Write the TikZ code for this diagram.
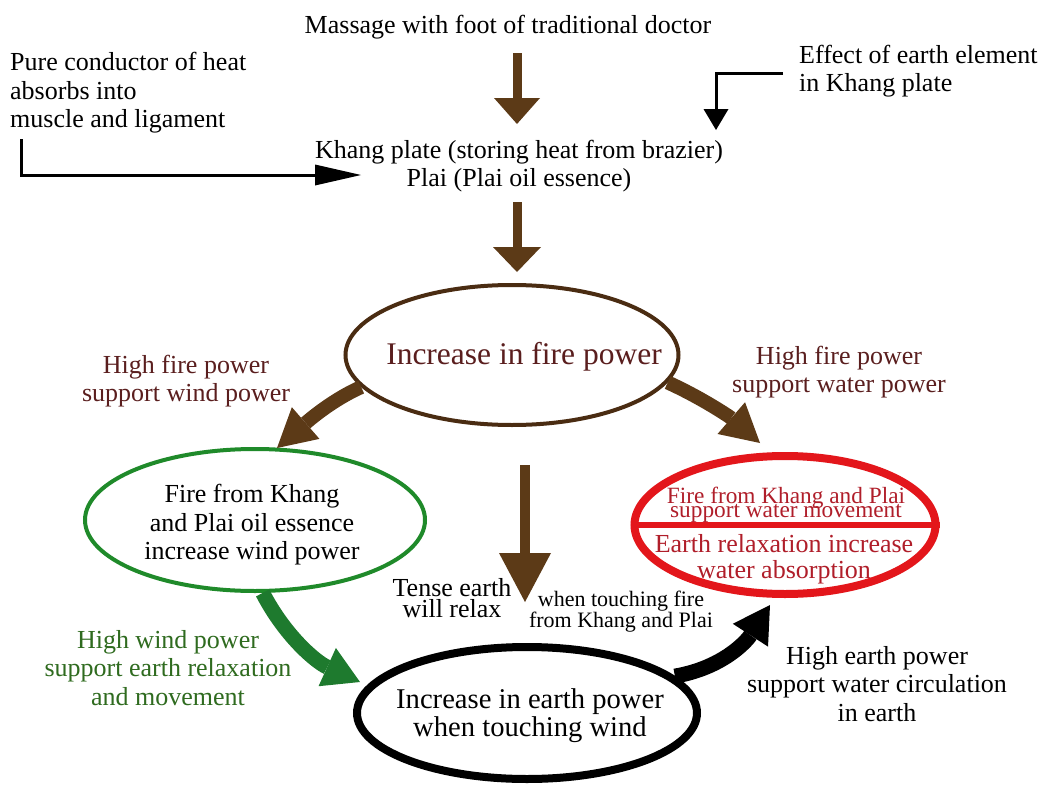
\documentclass[tikz,border=0pt]{standalone}
\usepackage{fontspec}
\setmainfont{Liberation Serif}
\usetikzlibrary{arrows.meta,shapes.geometric}
\definecolor{brownA}{HTML}{5C3A17}
\definecolor{brownE}{HTML}{4A2C12}
\definecolor{maroonT}{HTML}{5A1E1E}
\definecolor{redE}{HTML}{E3161B}
\definecolor{redT}{HTML}{B01E2A}
\definecolor{greenE}{HTML}{1F8A2A}
\definecolor{greenA}{HTML}{1E7A2E}
\definecolor{greenT}{HTML}{2F6B1F}
\newcommand{\tightlines}{\lineskiplimit -100pt\relax}
\tikzset{
  txt/.style={inner sep=0pt, align=center, font=\fontsize{26}{28.5}\selectfont},
  ell/.style={ellipse, inner sep=0pt},
  thinarrow/.style={black, line width=3pt, line join=miter},
  straightbrown/.style={brownA, line width=9pt},
  curvebrown/.style={brownA, line width=14pt, -{Triangle[length=38pt,width=42pt,line width=0pt]}},
}
\begin{document}
\begin{tikzpicture}[x=1pt,y=-1pt]
\fill[white] (0,0) rectangle (1045,787);
\useasboundingbox (0,0) rectangle (1045,787);

% top texts
\node[txt] (massage) at (508,27) {Massage with foot of traditional doctor};
\node[txt] (khang) at (519,166) {Khang plate (storing heat from brazier)\\Plai (Plai oil essence)};
\node[txt, align=left, anchor=west] (pure) at (10,93) {Pure conductor of heat\\absorbs into\\muscle and ligament};
\node[txt, align=left, anchor=west] (effect) at (799,71) {Effect of earth element\\in Khang plate};

% straight brown arrows
\coordinate (a1s) at (517,53);
\coordinate (a1e) at (517,124);
\draw[straightbrown, -{Triangle[length=26pt,width=46pt,line width=0pt]}] (a1s) -- (a1e);
\coordinate (a2s) at (517,202);
\coordinate (a2e) at (517,272);
\draw[straightbrown, -{Triangle[length=25pt,width=48pt,line width=0pt]}] (a2s) -- (a2e);

% thin black elbow arrows
\coordinate (l1) at (21,139);
\coordinate (l2) at (361,175);
\draw[thinarrow, -{Triangle[length=46pt,width=21pt,line width=0pt]}] (l1) |- (l2);
\coordinate (r1) at (783,73);
\coordinate (r2) at (716,130);
\draw[thinarrow, -{Triangle[length=21pt,width=25pt,line width=0pt]}] (r1) -| (r2);

% fire ellipse
\node[ell, draw=brownE, line width=4pt, minimum width=333pt, minimum height=140pt] (fire) at (512,355) {};
\node[txt, text=maroonT, font=\fontsize{31.5}{34}\selectfont] (firet) at (524,357) {Increase in fire power};
\node[txt, text=maroonT] (hfL) at (186,381) {High fire power\\support wind power};
\node[txt, text=maroonT] (hfR) at (839,372) {High fire power\\support water power};

% wind ellipse
\node[ell, draw=greenE, line width=4pt, minimum width=340pt, minimum height=142pt] (wind) at (255,520) {};
\node[txt] (windt) at (252,525) {Fire from Khang\\and Plai oil essence\\increase wind power};

% water ellipse
\node[ell, draw=redE, line width=8pt, minimum width=301pt, minimum height=138pt] (water) at (785,525) {};
\draw[redE, line width=6pt] (water.west) -- (water.east);
\node[txt, text=redT, font={\fontsize{23.3}{14}\selectfont\tightlines}] (wt1) at (786,505) {Fire from Khang and Plai\\support water movement};
\node[txt, text=redT, font=\fontsize{26}{26}\selectfont] (wt2) at (784,559) {Earth relaxation increase\\water absorption};

% earth ellipse
\node[ell, draw=black, line width=8pt, minimum width=340pt, minimum height=132pt] (earth) at (527,713) {};
\node[txt, font=\fontsize{28.6}{28}\selectfont] (eartht) at (530,716) {Increase in earth power\\when touching wind};

% curved brown arrows
\coordinate (windIn) at (277,448);
\coordinate (waterIn) at (760,443);
\draw[curvebrown] (fire.192) .. controls (332,400) and (308,421) .. (windIn);
\draw[curvebrown] (fire.350) .. controls (702,398) and (730,417) .. (waterIn);

% middle brown arrow
\coordinate (m1) at (525,465);
\coordinate (m2) at (525,602);
\draw[brownA, line width=10pt, -{Triangle[length=49pt,width=52pt,line width=0pt]}] (m1) -- (m2);
\node[txt, font=\fontsize{26}{21}\selectfont] (tense) at (452,598) {Tense earth\\will relax};
\node[txt, font=\fontsize{22}{20}\selectfont] (touch) at (621,612) {when touching fire\\from Khang and Plai};

% green arrow
\coordinate (earthIn) at (360,682);
\draw[greenA, line width=15pt, -{Triangle[length=36pt,width=42pt,line width=0pt]}] (wind.-84) .. controls (285,636) and (316,662) .. (earthIn);
\node[txt, text=greenT] (hw) at (168,668) {High wind power\\support earth relaxation\\and movement};

% black arrow
\coordinate (waterIn2) at (770,605);
\draw[black, line width=15pt, -{Triangle[length=36pt,width=42pt,line width=0pt]}] (earth.14) .. controls (722,668) and (746,642) .. (waterIn2);
\node[txt] (hep) at (877,684) {High earth power\\support water circulation\\in earth};
\end{tikzpicture}
\end{document}
